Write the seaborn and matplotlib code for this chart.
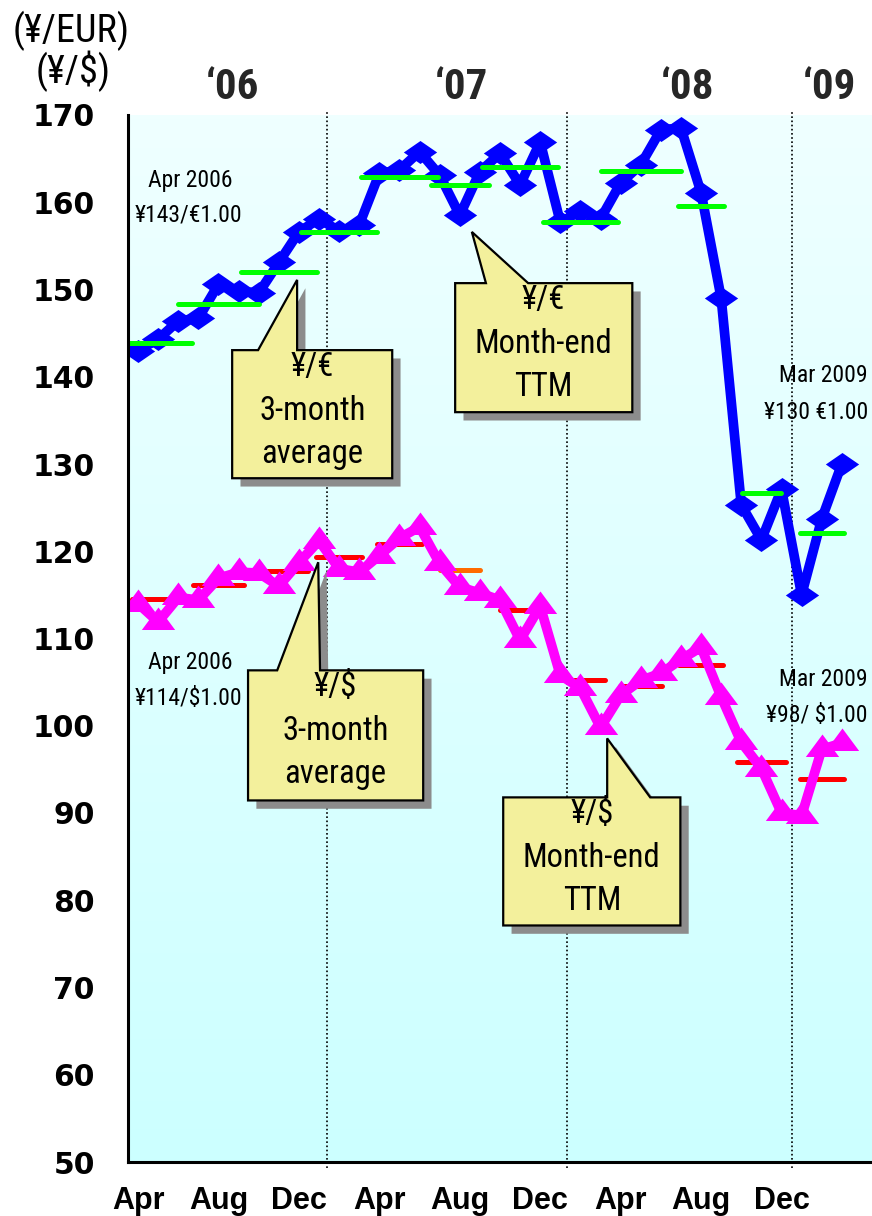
import numpy as np
import pandas as pd
import seaborn as sns
import matplotlib
matplotlib.use("Agg")
import matplotlib.pyplot as plt
from matplotlib import font_manager as fm
from matplotlib.patches import Polygon
from matplotlib.path import Path
from matplotlib.colors import LinearSegmentedColormap
import matplotlib.patheffects as pe

# ---- data: month-end rates Apr 2006 .. Mar 2009 (36 months) ----
eur_month_end = [143.0, 144.3, 146.4, 146.7, 150.6, 149.8, 149.6, 153.1, 156.6, 158.1,
                 156.7, 157.4, 163.3, 163.7, 165.8, 163.1, 158.5, 163.5, 165.6, 162.0,
                 166.9, 157.7, 159.0, 158.1, 162.2, 164.3, 168.3, 168.5, 161.1, 149.0,
                 125.3, 121.3, 127.1, 115.0, 123.7, 130.0]
usd_month_end = [114.0, 111.9, 114.7, 114.4, 116.9, 117.6, 117.5, 116.0, 118.7, 121.2,
                 118.0, 117.6, 119.5, 121.5, 122.8, 118.6, 115.9, 115.2, 114.4, 109.8,
                 113.7, 105.8, 104.3, 99.8, 103.5, 105.2, 106.0, 107.6, 109.0, 103.3,
                 98.1, 95.1, 90.0, 89.7, 97.3, 98.0]

# quarterly 3-month averages (Apr-Jun 2006 .. Jan-Mar 2009)
eur_3m_avg = [143.9, 148.3, 152.0, 156.6, 162.9, 162.0, 164.0, 157.7, 163.6, 159.6, 126.7, 122.1]
usd_3m_avg = [114.5, 116.1, 117.7, 119.3, 120.8, 117.9, 113.3, 105.2, 104.5, 107.0, 95.9, 93.9]

tick_labels = ["Apr", "Aug", "Dec", "Apr", "Aug", "Dec", "Apr", "Aug", "Dec"]
year_labels = ["\u201806", "\u201807", "\u201808", "\u201809"]
y_ticks = [50, 60, 70, 80, 90, 100, 110, 120, 130, 140, 150, 160, 170]

# ---- styling ----
eur_bar_half = [1.7, 2.0, 1.9, 1.9, 1.9, 1.45, 1.9, 1.85, 2.0, 1.15, 0.95, 1.1]
usd_bar_half = [1.3, 1.25, 1.45, 1.15, 1.1, 1.0, 1.0, 1.2, 1.05, 1.1, 1.2, 1.1]
usd_bar_colors = ["#FF0000"] * 5 + ["#FF6A00"] + ["#FF0000"] * 6
year_breaks = [9.4, 21.35, 32.5]
year_label_x = [4.7, 16.1, 27.3, 34.4]

sns.set_theme(style="white")

# pick a narrow sans face for the annotation text
entries = fm.fontManager.ttflist
narrow_family, narrow_stretch, shrink = "Liberation Sans", "normal", 0.84
for wanted in ["Liberation Sans Narrow", "Roboto Condensed", "DejaVu Sans Condensed",
               "Open Sans Condensed", "Noto Sans Condensed"]:
    if any(f.name == wanted for f in entries):
        narrow_family, narrow_stretch, shrink = wanted, "normal", 1.0
        break
else:
    for f in entries:
        if f.name in ("DejaVu Sans", "Roboto", "Open Sans", "Noto Sans", "Lato") and \
                f.stretch in ("condensed", "semi-condensed", "extra-condensed"):
            narrow_family, narrow_stretch, shrink = f.name, "condensed", 0.95
            break

plt.rcParams["font.family"] = [narrow_family, "DejaVu Sans"]
plt.rcParams["font.stretch"] = narrow_stretch


def fs(size):
    return size * shrink


df = pd.DataFrame({"month": np.arange(len(eur_month_end)),
                   "eur": eur_month_end, "usd": usd_month_end})
quarter_mid = np.arange(1, len(df), 3)

fig = plt.figure(figsize=(8.72, 12.16), dpi=100)
ax = fig.add_axes([128 / 872, 54 / 1216, 744 / 872, 1047 / 1216])
ax.set_xlim(-0.5, 36.5)
ax.set_ylim(50, 170)

# pale cyan gradient background
grad = np.linspace(0, 1, 256).reshape(-1, 1)
cmap = LinearSegmentedColormap.from_list("bg", ["#CCFFFF", "#EFFFFF"])
ax.imshow(grad, extent=[-0.5, 36.5, 50, 170], origin="lower", aspect="auto",
          cmap=cmap, zorder=0)

# year dividers
ax.vlines(year_breaks, 49.3, 170.6, colors="black", linestyles=(0, (1, 1.5)),
          lw=1.2, zorder=1, clip_on=False)

diamond = Path([(-1, 0), (0, 0.69), (1, 0), (0, -0.69), (-1, 0)], closed=True)
triangle = Path([(-1, -0.45), (1, -0.45), (0, 0.9), (-1, -0.45)], closed=True)

sns.lineplot(data=df, x="month", y="eur", ax=ax, color="#0000FF", lw=7,
             marker=diamond, markersize=24, markeredgewidth=0, zorder=3)
sns.lineplot(data=df, x="month", y="usd", ax=ax, color="#FF00FF", lw=7,
             marker=triangle, markersize=24, markeredgewidth=0, zorder=3)

for c, v, h in zip(quarter_mid, eur_3m_avg, eur_bar_half):
    ax.plot([c - h, c + h], [v, v], color="#00FF00", lw=3.6,
            solid_capstyle="round", zorder=4)
for c, v, h, col in zip(quarter_mid, usd_3m_avg, usd_bar_half, usd_bar_colors):
    ax.plot([c - h, c + h], [v, v], color=col, lw=3.6,
            solid_capstyle="round", zorder=2)

# axes styling
ax.set_xticks(np.arange(0, 36, 4))
ax.set_xticklabels(tick_labels, fontfamily="Liberation Sans", fontstretch="normal",
                   fontweight="bold", fontsize=22)
ax.set_yticks(y_ticks)
ax.set_yticklabels([str(t) for t in y_ticks], fontfamily="DejaVu Sans",
                   fontstretch="normal", fontweight="bold", fontsize=21.5)
ax.tick_params(axis="x", length=0, pad=17, colors="black")
ax.tick_params(axis="y", length=0, pad=24, colors="black")
ax.set_xlabel("")
ax.set_ylabel("")
for s in ["top", "right"]:
    ax.spines[s].set_visible(False)
for s in ["left", "bottom"]:
    ax.spines[s].set_color("black")
    ax.spines[s].set_linewidth(2.2)
    ax.spines[s].set_zorder(7)

# unit labels and year labels
fig.text(71 / 872, 1 - 31 / 1216, "(\u00a5/EUR)", ha="center", va="center",
         fontsize=fs(27.5), color="black")
fig.text(73 / 872, 1 - 71 / 1216, "(\u00a5/$)", ha="center", va="center",
         fontsize=fs(27.5), color="black")
for xl, lab in zip(year_label_x, year_labels):
    ax.text(xl, 173.1, lab, ha="center", va="center", fontsize=fs(31),
            fontweight="bold", clip_on=False)

# start / end value notes
note = dict(fontsize=fs(17), color="black", zorder=8)
ax.text(2.6, 162.5, "Apr 2006", ha="center", va="center", **note)
ax.text(2.5, 158.5, "\u00a5143/\u20ac1.00", ha="center", va="center", **note)
ax.text(36.3, 140.1, "Mar 2009", ha="right", va="center", **note)
ax.text(36.3, 135.9, "\u00a5130 \u20ac1.00", ha="right", va="center", **note)
ax.text(2.6, 107.2, "Apr 2006", ha="center", va="center", **note)
ax.text(2.5, 103.1, "\u00a5114/$1.00", ha="center", va="center", **note)
ax.text(36.3, 105.3, "Mar 2009", ha="right", va="center", **note)
ax.text(36.3, 101.2, "\u00a598/ $1.00", ha="right", va="center", **note)


def callout(box, tip, base_l, base_r, lines):
    left, right, top, bottom = box
    verts = [(left, top), (base_l, top), tip, (base_r, top), (right, top),
             (right, bottom), (left, bottom)]
    poly = Polygon(verts, closed=True, facecolor="#F3F09C", edgecolor="black",
                   lw=1.6, zorder=6, joinstyle="miter",
                   path_effects=[pe.SimplePatchShadow(offset=(6, -6),
                                                      shadow_rgbFace="#8C8C8C",
                                                      alpha=1.0),
                                 pe.Normal()])
    ax.add_patch(poly)
    cx = (left + right) / 2
    for dy, txt in zip([1.9, 7.0, 11.9], lines):
        ax.text(cx, top - dy, txt, ha="center", va="center", fontsize=fs(23.5),
                color="black", zorder=8)


callout((4.68, 12.64, 143.05, 128.37), (7.91, 151.1), 5.97, 7.91,
        ["\u00a5/\u20ac", "3-month", "average"])
callout((15.77, 24.58, 150.73, 135.94), (16.6, 156.6), 17.3, 19.4,
        ["\u00a5/\u20ac", "Month-end", "TTM"])
callout((5.47, 14.18, 106.35, 91.44), (8.96, 118.74), 6.92, 9.05,
        ["\u00a5/$", "3-month", "average"])
callout((18.16, 26.97, 91.79, 77.11), (23.33, 98.55), 23.33, 25.47,
        ["\u00a5/$", "Month-end", "TTM"])

fig.savefig("out.png", dpi=100)
